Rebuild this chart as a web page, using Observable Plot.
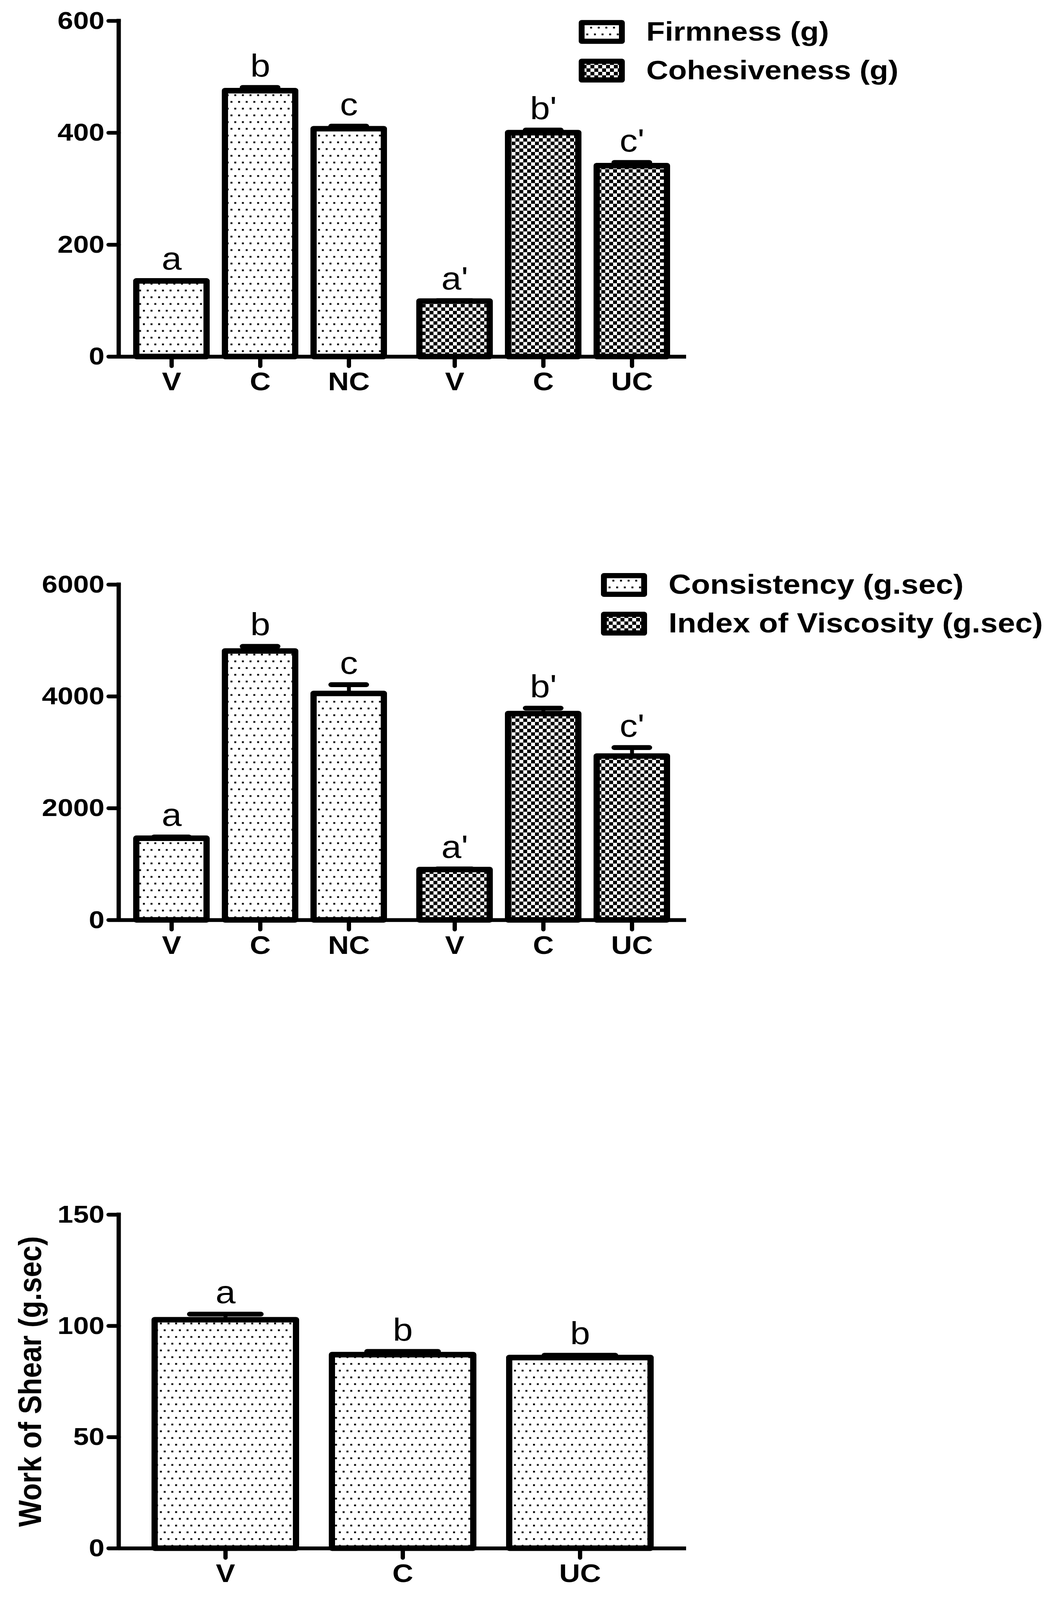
<!DOCTYPE html>
<html>
<head>
<meta charset="utf-8">
<script src="https://cdn.jsdelivr.net/npm/d3@7"></script>
<script src="https://cdn.jsdelivr.net/npm/@observablehq/plot@0.6"></script>
<style>
html, body { margin: 0; padding: 0; background: #fff; }
#wrap { position: relative; width: 2694px; height: 4096px; overflow: hidden; background: #fff; }
#page { position: absolute; left: 0; top: 0; width: 2694px; height: 4632px; background: #fff;
        transform-origin: 0 0; }
</style>
</head>
<body>
<svg width="0" height="0" style="position:absolute;left:0;top:0">
  <defs>
    <pattern id="dots" patternUnits="userSpaceOnUse" width="19.5" height="39">
      <rect width="19.5" height="39" fill="#fff"/>
      <rect x="0" y="0" width="5" height="5" fill="#000"/>
      <rect x="9.75" y="19.5" width="5" height="5" fill="#000"/>
    </pattern>
    <pattern id="checks" patternUnits="userSpaceOnUse" width="20" height="20">
      <rect width="20" height="20" fill="#fff"/>
      <rect x="0" y="0" width="10" height="10" fill="#000"/>
      <rect x="10" y="10" width="10" height="10" fill="#000"/>
    </pattern>
  </defs>
</svg>
<div id="wrap"><div id="page"></div></div>
<script>
// ---------- data ----------
// Panel 1
const firmCats = ["V", "C", "NC"];
const firmVals = [135, 475, 407];
const firmErrs = [1, 6, 5];
const firmLetters = ["a", "b", "c"];
const cohCats = ["V", "C", "UC"];
const cohVals = [99, 400, 341];
const cohErrs = [1, 5, 6];
const cohLetters = ["a'", "b'", "c'"];
const panel1Ticks = [0, 200, 400, 600];
const panel1Legend = ["Firmness (g)", "Cohesiveness (g)"];

// Panel 2
const consCats = ["V", "C", "NC"];
const consVals = [1460, 4810, 4050];
const consErrs = [25, 85, 160];
const consLetters = ["a", "b", "c"];
const viscCats = ["V", "C", "UC"];
const viscVals = [900, 3690, 2930];
const viscErrs = [15, 100, 155];
const viscLetters = ["a'", "b'", "c'"];
const panel2Ticks = [0, 2000, 4000, 6000];
const panel2Legend = ["Consistency (g.sec)", "Index of Viscosity (g.sec)"];

// Panel 3
const shearCats = ["V", "C", "UC"];
const shearVals = [102.7, 87.0, 85.7];
const shearErrs = [2.6, 1.5, 1.1];
const shearLetters = ["a", "b", "b"];
const panel3Ticks = [0, 50, 100, 150];
const panel3YLabel = "Work of Shear (g.sec)";

// ---------- drawing ----------
const FONT = '"Liberation Sans", Arial, Helvetica, sans-serif';
const PAGE_W = 2694, PAGE_H = 4632;
const page = document.getElementById("page");
const wrap = document.getElementById("wrap");

// fit the full figure into the visible window height
const visibleH = Math.min(window.innerHeight || PAGE_H, PAGE_H);
wrap.style.height = visibleH + "px";
page.style.transform = "scale(1," + (visibleH / PAGE_H) + ")";

function yAxisLine(index, scales, values, dimensions) {
  const {marginLeft, marginTop, height, marginBottom} = dimensions;
  return d3.create("svg:line")
    .attr("x1", marginLeft).attr("x2", marginLeft)
    .attr("y1", marginTop - 5.5).attr("y2", height - marginBottom)
    .attr("stroke", "#000").attr("stroke-width", 11)
    .node();
}

function makeChart(cfg) {
  const rows = [];
  cfg.groups.forEach((g, gi) => g.cats.forEach((c, i) => rows.push({
    g: gi, key: gi + "|" + c, cat: c, value: g.vals[i], err: g.errs[i], letter: g.letters[i]
  })));
  const marks = [];
  cfg.groups.forEach((g, gi) => {
    const d = rows.filter(r => r.g === gi);
    const dx = g.dx;
    marks.push(Plot.ruleX(d, {x: "key", y1: "value", y2: r => r.value + r.err, stroke: "#000", strokeWidth: 10, dx}));
    marks.push(Plot.barY(d, {x: "key", y: "value", fill: g.fill, stroke: "#000", strokeWidth: 16, strokeLinejoin: "round", dx}));
    marks.push(Plot.tickY(d, {x: "key", y: r => r.value + r.err, stroke: "#000", strokeWidth: 14, strokeLinecap: "round",
      insetLeft: cfg.capInset, insetRight: cfg.capInset, dx}));
    marks.push(Plot.text(d, {x: "key", y: r => r.value + r.err, text: "letter", dx, dy: -32, lineAnchor: "bottom",
      fontSize: 92, fontWeight: "normal", fill: "#000"}));
    marks.push(Plot.axisX(d.map(r => r.key), {tickSize: 28, tickPadding: 17, strokeWidth: 11, strokeLinecap: "round",
      fontSize: 74, fontWeight: "bold", fill: "#000", stroke: "#000", label: null,
      tickFormat: k => k.split("|")[1], dx}));
  });
  marks.push(Plot.ruleY([0], {stroke: "#000", strokeWidth: 11}));
  marks.push(Plot.axisY(cfg.ticks, {tickSize: 26, tickPadding: 11, strokeWidth: 11, strokeLinecap: "round",
    fontSize: 72, fontWeight: "bold", fill: "#000", stroke: "#000", label: null, tickFormat: d3.format("d")}));
  marks.push(yAxisLine);
  if (cfg.yLabel) {
    marks.push(Plot.text([cfg.yLabel], {text: d => d, frameAnchor: "left", rotate: -90, dx: -200,
      lineAnchor: "bottom", textAnchor: "middle", fontSize: 82, fontWeight: "bold", fill: "#000"}));
  }
  const svg = Plot.plot({
    width: 1800,
    height: cfg.height,
    marginTop: cfg.marginTop,
    marginBottom: cfg.marginBottom,
    marginLeft: 304,
    marginRight: 43,
    x: {type: "band", domain: rows.map(r => r.key), paddingInner: cfg.padInner, paddingOuter: cfg.padOuter, align: 0.5, label: null},
    y: {domain: [0, cfg.yMax], nice: false, label: null},
    style: {fontFamily: FONT, fontSize: "70px", color: "#000", background: "transparent", overflow: "visible"},
    marks
  });
  svg.style.position = "absolute";
  svg.style.left = "0px";
  svg.style.top = cfg.top + "px";
  svg.style.maxWidth = "none";
  page.appendChild(svg);
}

function makeLegend(cfg) {
  const svg = d3.create("svg")
    .attr("width", 1200).attr("height", 260)
    .style("position", "absolute").style("left", cfg.left + "px").style("top", cfg.top + "px")
    .style("overflow", "visible");
  cfg.labels.forEach((lab, i) => {
    const y0 = i * 112;
    svg.append("rect").attr("x", 7.5).attr("y", y0 + 7.5).attr("width", 103).attr("height", 54)
      .attr("fill", cfg.fills[i]).attr("stroke", "#000").attr("stroke-width", 15).attr("stroke-linejoin", "round");
    svg.append("text").attr("x", 173).attr("y", y0 + 60)
      .attr("font-size", cfg.fontSize).attr("font-weight", "bold").attr("font-family", FONT).attr("fill", "#000")
      .text(lab);
  });
  page.appendChild(svg.node());
}

// Panel 1
makeChart({
  groups: [
    {cats: firmCats, vals: firmVals, errs: firmErrs, letters: firmLetters, fill: "url(#dots)", dx: -24},
    {cats: cohCats, vals: cohVals, errs: cohErrs, letters: cohLetters, fill: "url(#checks)", dx: 20}
  ],
  yMax: 600, ticks: panel1Ticks, top: 0, height: 1200, marginTop: 60, marginBottom: 168,
  padInner: 0.207, padOuter: 0.303, capInset: 45
});
// Panel 2
makeChart({
  groups: [
    {cats: consCats, vals: consVals, errs: consErrs, letters: consLetters, fill: "url(#dots)", dx: -24},
    {cats: viscCats, vals: viscVals, errs: viscErrs, letters: viscLetters, fill: "url(#checks)", dx: 20}
  ],
  yMax: 6000, ticks: panel2Ticks, top: 1600, height: 1200, marginTop: 92, marginBottom: 137,
  padInner: 0.207, padOuter: 0.303, capInset: 45
});
// Panel 3
makeChart({
  groups: [
    {cats: shearCats, vals: shearVals, errs: shearErrs, letters: shearLetters, fill: "url(#dots)", dx: 0}
  ],
  yMax: 150, ticks: panel3Ticks, top: 3400, height: 1232, marginTop: 116, marginBottom: 150,
  padInner: 0.203, padOuter: 0.201, capInset: 90, yLabel: panel3YLabel
});

makeLegend({labels: panel1Legend, fills: ["url(#dots)", "url(#checks)"], left: 1482, top: 58, fontSize: 78});
makeLegend({labels: panel2Legend, fills: ["url(#dots)", "url(#checks)"], left: 1539, top: 1659, fontSize: 80});
</script>
</body>
</html>
